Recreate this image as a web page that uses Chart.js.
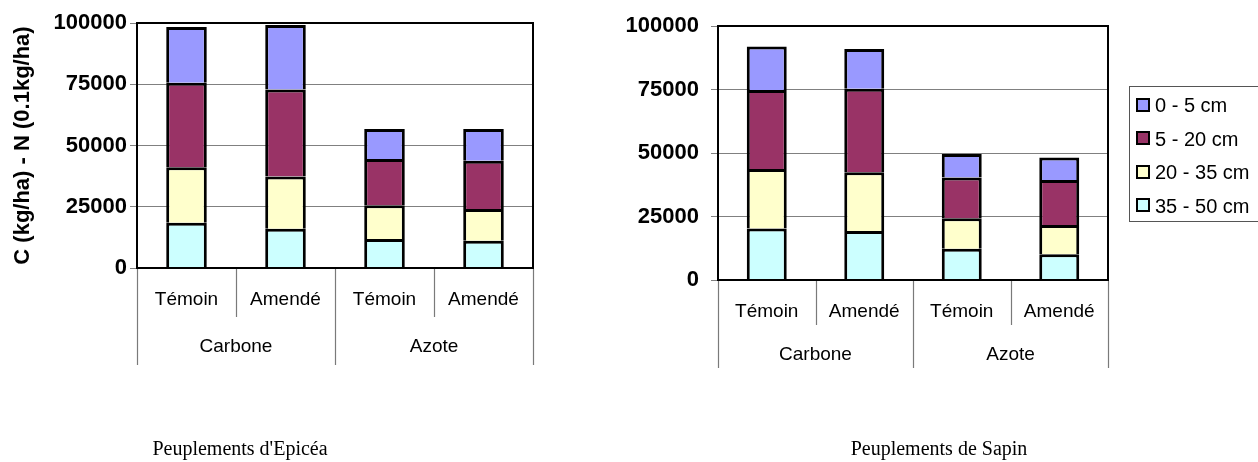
<!DOCTYPE html>
<html>
<head>
<meta charset="utf-8">
<script src="https://cdn.jsdelivr.net/npm/chart.js@4"></script>
<style>
  html, body { margin:0; padding:0; background:#fff; }
  body { width:1258px; height:462px; position:relative; overflow:hidden; font-family: Arial, "Liberation Sans", sans-serif; }
  canvas { position:absolute; top:0; }
  #cLeft { left:0; }
  #cRight { left:560px; }
  .title { position:absolute; font-family:"Times New Roman", "Liberation Serif", serif; font-size:20px; color:#000; white-space:nowrap; transform:translateX(-50%); }
  #legend { position:absolute; left:1129px; top:86px; width:150px; height:136px; border:1px solid #555; box-sizing:border-box; }
  .li { position:absolute; left:6px; height:24px; line-height:24px; font-size:20px; white-space:nowrap; }
  .sw { display:inline-block; width:10px; height:10px; border:2px solid #000; vertical-align:middle; margin-right:5px; position:relative; top:-2px; }
</style>
</head>
<body>
<canvas id="cLeft" width="560" height="462"></canvas>
<canvas id="cRight" width="698" height="462"></canvas>
<div id="legend"></div>
<div class="title" id="t1" style="left:240px; top:437px;">Peuplements d'Epicéa</div>
<div class="title" id="t2" style="left:939px; top:437px;">Peuplements de Sapin</div>
<script>
// ---- data ----
const categories = ['Témoin', 'Amendé', 'Témoin', 'Amendé'];
const groups = ['Carbone', 'Azote'];
const seriesNames = ['0 - 5 cm', '5 - 20 cm', '20 - 35 cm', '35 - 50 cm'];
const seriesColors = ['#9999FF', '#993366', '#FFFFCC', '#CCFFFF'];
const yTicks = [0, 25000, 50000, 75000, 100000];
const yTitle = 'C (kg/ha) - N (0.1kg/ha)';

// Epicéa
const epicea_0_5   = [22800, 26300, 12200, 12900];
const epicea_5_20  = [34500, 35600, 18900, 19700];
const epicea_20_35 = [22600, 21300, 13800, 13000];
const epicea_35_50 = [18500, 16000, 11800, 11100];

// Sapin
const sapin_0_5   = [17100, 15600, 9200, 8800];
const sapin_5_20  = [31100, 32900, 16100, 17700];
const sapin_20_35 = [23400, 23100, 12000, 11600];
const sapin_35_50 = [20300, 19300, 12300, 10100];

Chart.defaults.font.family = 'Arial, "Liberation Sans", sans-serif';
Chart.defaults.color = '#000';

function buildDatasets(s0_5, s5_20, s20_35, s35_50) {
  const vals = [s0_5, s5_20, s20_35, s35_50];
  // stack bottom -> top : 35-50, 20-35, 5-20, 0-5
  const order = [3, 2, 1, 0];
  return order.map(i => ({
    label: seriesNames[i],
    data: vals[i],
    backgroundColor: seriesColors[i],
    borderColor: '#000',
    borderWidth: 3,
    borderSkipped: 'start',
    barPercentage: 0.41,
    categoryPercentage: 1.0
  }));
}

function framePlugin(geo) {
  return {
    id: 'frameAndGroups',
    afterDraw(chart) {
      const ctx = chart.ctx;
      const a = chart.chartArea;
      const xs = chart.scales.x;
      ctx.save();
      // frame
      ctx.strokeStyle = '#000';
      ctx.lineWidth = 2;
      ctx.strokeRect(a.left, a.top, a.right - a.left, a.bottom - a.top);
      // category separators
      const n = categories.length;
      const step = (a.right - a.left) / n;
      ctx.strokeStyle = '#7a7a7a';
      ctx.lineWidth = 1.2;
      for (let i = 0; i <= n; i++) {
        const x = Math.round(a.left + i * step) + 0.5;
        const len = (i % 2 === 0) ? geo.outer : geo.inner;
        ctx.beginPath();
        ctx.moveTo(x, a.bottom + 1);
        ctx.lineTo(x, a.bottom + len);
        ctx.stroke();
      }
      // labels
      ctx.fillStyle = '#000';
      ctx.textAlign = 'center';
      ctx.textBaseline = 'middle';
      ctx.font = geo.labelFont;
      for (let i = 0; i < n; i++) {
        ctx.fillText(categories[i], xs.getPixelForValue(i), a.bottom + geo.sub);
      }
      for (let g = 0; g < groups.length; g++) {
        const x = (xs.getPixelForValue(g * 2) + xs.getPixelForValue(g * 2 + 1)) / 2;
        ctx.fillText(groups[g], x, a.bottom + geo.group);
      }
      ctx.restore();
    }
  };
}

function makeChart(id, datasets, geo, showTitle) {
  return new Chart(document.getElementById(id), {
    type: 'bar',
    data: { labels: categories, datasets: datasets },
    options: {
      responsive: false,
      animation: false,
      devicePixelRatio: 1,
      layout: { padding: geo.padding },
      plugins: { legend: { display: false }, tooltip: { enabled: false } },
      scales: {
        x: { stacked: true, display: false },
        y: {
          stacked: true,
          min: 0, max: 100000,
          afterBuildTicks: (s) => { s.ticks = yTicks.map(v => ({ value: v })); },
          afterFit: (s) => { s.width = geo.yWidth; },
          border: { display: false },
          grid: { color: '#808080', lineWidth: 1, tickLength: 7, tickColor: '#808080' },
          ticks: {
            padding: geo.tickPad,
            font: { size: 22, weight: 'bold' },
            callback: (v) => String(v)
          },
          title: {
            display: showTitle,
            text: yTitle,
            font: { size: 22, weight: 'bold' },
            padding: { top: 10, bottom: 0 }
          }
        }
      }
    },
    plugins: [framePlugin(geo)]
  });
}

makeChart('cLeft',
  buildDatasets(epicea_0_5, epicea_5_20, epicea_20_35, epicea_35_50),
  { padding: { left: 0, top: 23, right: 27, bottom: 462 - 268 }, yWidth: 137, tickPad: 3,
    sub: 32, group: 79, inner: 49, outer: 97, labelFont: '19px Arial, "Liberation Sans", sans-serif' },
  true);

makeChart('cRight',
  buildDatasets(sapin_0_5, sapin_5_20, sapin_20_35, sapin_35_50),
  { padding: { left: 0, top: 26, right: 150, bottom: 462 - 280 }, yWidth: 158, tickPad: 12,
    sub: 32, group: 75, inner: 45, outer: 88, labelFont: '19px Arial, "Liberation Sans", sans-serif' },
  false);

// legend
const leg = document.getElementById('legend');
seriesNames.forEach((name, i) => {
  const d = document.createElement('div');
  d.className = 'li';
  d.style.top = (6 + i * 33.5) + 'px';
  const sw = document.createElement('span');
  sw.className = 'sw';
  sw.style.background = seriesColors[i];
  d.appendChild(sw);
  d.appendChild(document.createTextNode(name));
  leg.appendChild(d);
});
</script>
</body>
</html>
